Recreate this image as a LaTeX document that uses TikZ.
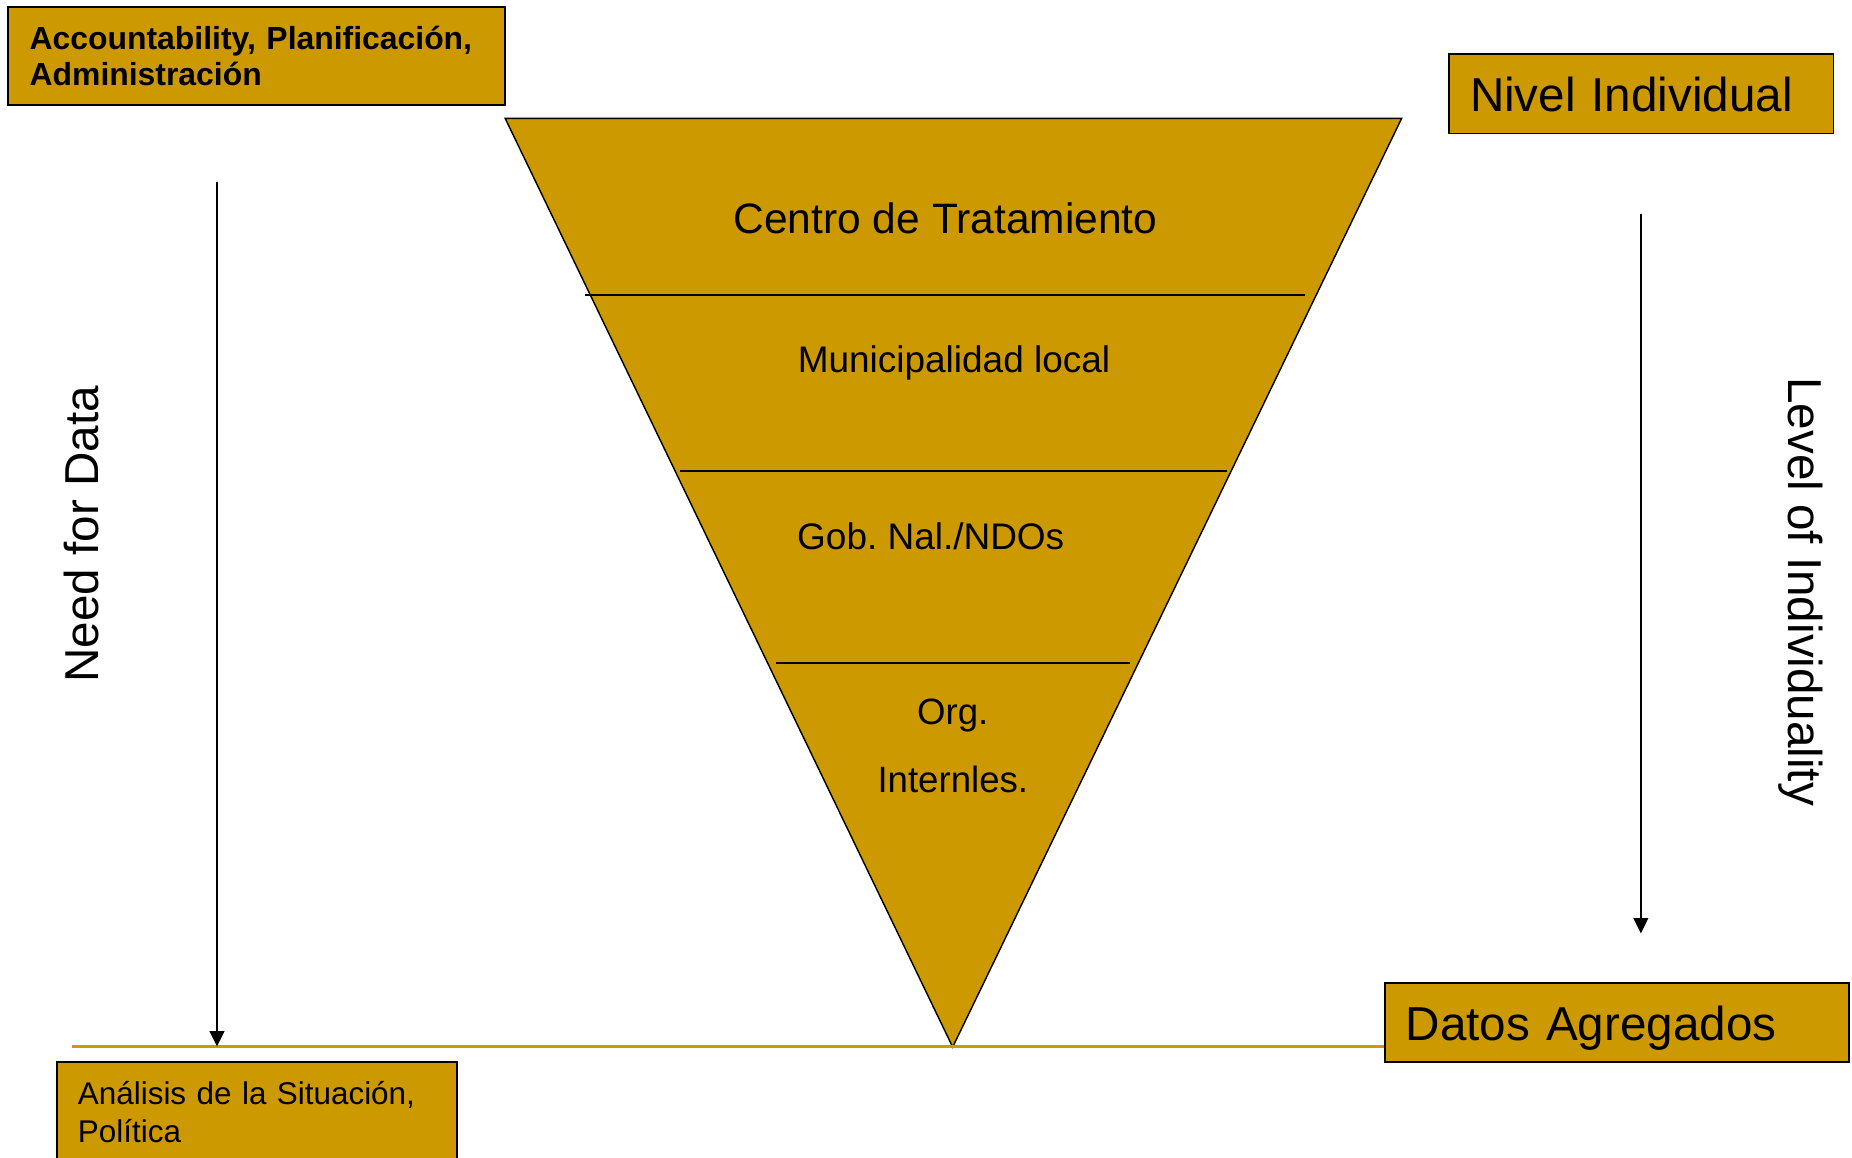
\documentclass[tikz,border=0pt]{standalone}
\usepackage{fontspec}
\setmainfont{Liberation Sans}
\usetikzlibrary{arrows.meta}
\definecolor{gold}{HTML}{CC9900}
\frenchspacing
\begin{document}
\begin{tikzpicture}[x=1pt,y=-1pt,
  box/.style={draw=black, line width=1.6pt, fill=gold, align=left, inner xsep=18pt, inner ysep=0pt, anchor=center},
  bigtext/.style={font=\fontsize{40.3}{48}\selectfont},
  lbl/.style={anchor=base, inner sep=0pt},
  divider/.style={line width=1.5pt},
  arr/.style={line width=1.3pt, -{Triangle[length=13pt,width=12.5pt]}},
  goldline/.style={draw=gold, line width=3pt},
]
\useasboundingbox (0,0) rectangle (1568,980);

% boxes
\node[box, minimum width=420.6pt, minimum height=83.5pt, text width=384.6pt,
      text height=20pt, text depth=31.3pt,
      font=\fontsize{27}{31}\selectfont\bfseries] (acc) at (217.4,47.45)
      {Accountability, Planificación,\\Administración};
\node[box, bigtext, minimum width=325.7pt, minimum height=67pt, text width=289.7pt,
      text height=30.2pt, text depth=0pt] (nivel) at (1389.45,79.5) {Nivel Individual};
\node[box, bigtext, minimum width=393.4pt, minimum height=67pt, text width=357.4pt,
      text height=30.2pt, text depth=0pt] (datos) at (1369,865.5) {Datos Agregados};

% triangle
\coordinate (TL) at (427.7,100.2);
\coordinate (TR) at (1186.7,100.2);
\coordinate (BV) at (806.6,886.5);
\filldraw[fill=gold, draw=black, line width=1.2pt, line join=miter] (TL) -- (TR) -- (BV) -- cycle;

\coordinate (d1a) at (495,249.5);  \coordinate (d1b) at (1105,249.5);
\coordinate (d2a) at (576,398.5);  \coordinate (d2b) at (1039,398.5);
\coordinate (d3a) at (657,561);    \coordinate (d3b) at (957,561);
\draw[divider] (d1a) -- (d1b);
\draw[divider] (d2a) -- (d2b);
\draw[divider] (d3a) -- (d3b);

\node[lbl, font=\fontsize{36}{43}\selectfont] (centro) at (800.5,198) {Centro de Tratamiento};
\node[lbl, font=\fontsize{31.3}{37}\selectfont] (muni) at (807.7,315.5) {Municipalidad local};
\node[lbl, font=\fontsize{31.3}{37}\selectfont] (gob) at (788,465) {Gob. Nal./NDOs};
\node[lbl, font=\fontsize{31}{37}\selectfont] (org) at (806.6,613) {Org.};
\node[lbl, font=\fontsize{31}{37}\selectfont] (intern) at (806.7,671) {Internles.};

% gold base line
\coordinate (gl) at (61,886.2);
\draw[goldline] (gl) -- (datos.west |- gl);

% analysis box (runs off the bottom edge)
\node[box, minimum width=339pt, minimum height=100.5pt, text width=303pt,
      text height=20pt, text depth=49.5pt,
      font=\fontsize{26.6}{32.6}\selectfont] (anal) at (217.5,949.75)
      {Análisis de la Situación,\\Política};

% arrows
\coordinate (la1) at (183.7,153.8);
\coordinate (la2) at (183.7,886);
\draw[arr] (la1) -- (la2);
\coordinate (ra1) at (1389.2,181);
\coordinate (ra2) at (1389.2,790.3);
\draw[arr] (ra1) -- (ra2);

% rotated labels
\node[lbl, bigtext, rotate=90] (need) at (83.3,452.3) {Need for Data};
\node[lbl, bigtext, rotate=-90] (level) at (1514,501) {Level of Individuality};
\end{tikzpicture}
\end{document}
